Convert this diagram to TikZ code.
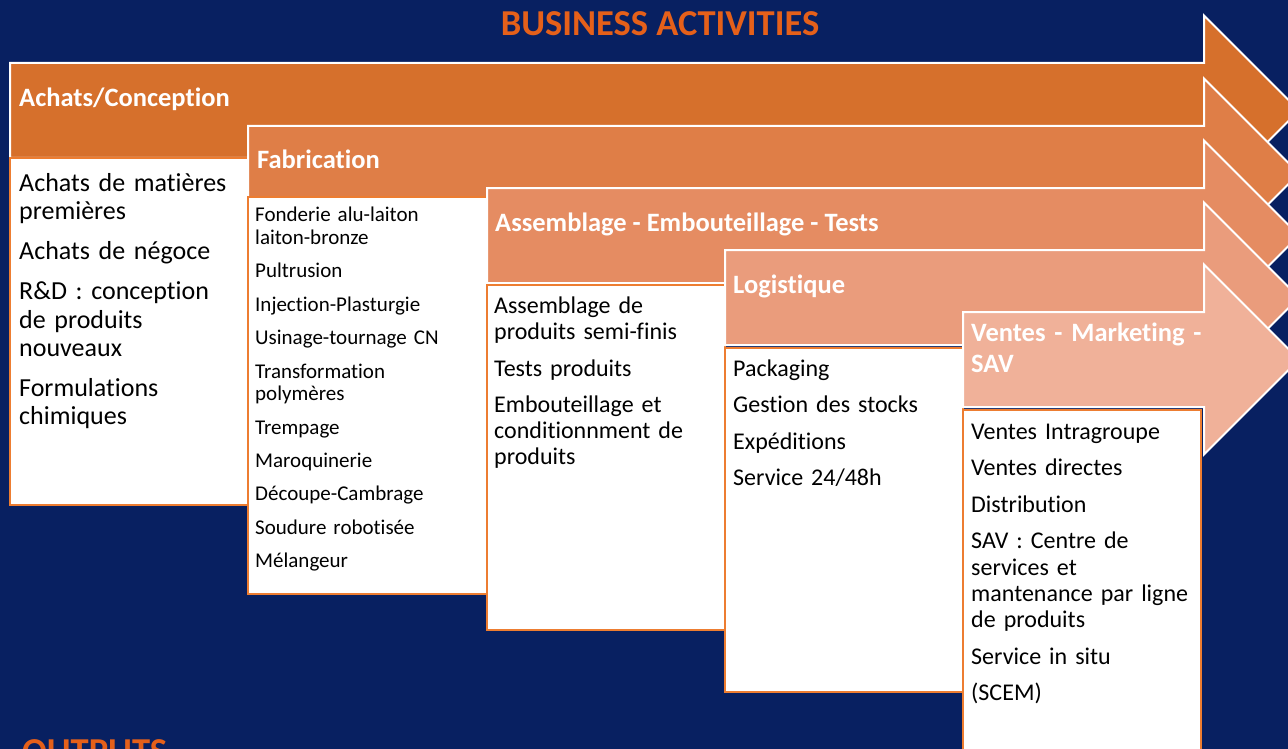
\documentclass[tikz,border=0pt]{standalone}
\usepackage{fontspec}
\setmainfont{Carlito}[Ligatures=NoCommon]
\definecolor{navy}{HTML}{082061}
\definecolor{titleorange}{HTML}{E5601A}
\definecolor{boxorange}{HTML}{ED7D31}
\definecolor{arrA}{HTML}{D6702C}
\definecolor{arrB}{HTML}{DF7E47}
\definecolor{arrC}{HTML}{E58C62}
\definecolor{arrD}{HTML}{EA9C7C}
\definecolor{arrE}{HTML}{F0B199}
\newcommand\fsz[2]{\fontsize{#1}{#2}\selectfont}
\newcommand\procarrow[3]{%
  \filldraw[arrowshape, fill=#3] (#1,#2) -- (1204,#2) -- (1204,#2-47.5) -- (1299,#2+47.5)
    -- (1204,#2+142.5) -- (1204,#2+95) -- (#1,#2+95) -- cycle;}
\begin{document}
\begin{tikzpicture}[x=1pt,y=-1pt,
  arrowshape/.style={draw=white, line width=2pt, line join=miter},
  contentbox/.style={fill=white, draw=boxorange, line width=2.5pt},
  head/.style={anchor=base west, inner sep=0, text=white, font=\bfseries\fsz{26.5}{31}},
  body/.style={anchor=base west, inner sep=0, align=left, text width=260pt, text=black},
  bigtitle/.style={inner sep=0, text=titleorange, font=\bfseries\fsz{36.5}{40}}]
\useasboundingbox (0,0) rectangle (1288,749);
\fill[navy] (0,0) rectangle (1288,749);

\node[bigtitle, anchor=base] (title) at (660,36) {BUSINESS ACTIVITIES};

% 1
\procarrow{10}{63}{arrA}
\node[head] (h1) at (19,106.7) {Achats/Conception};
\draw[contentbox] (10,158) rectangle (248,505);
\node[body, font=\fsz{26}{28.3}] (b1) at (19,191.7) {Achats de matières\\premières\\[11.7pt]
Achats de négoce\\[11.7pt]
R\&D : conception\\de produits\\nouveaux\\[11.7pt]
Formulations\\chimiques};

% 2
\procarrow{248}{126}{arrB}
\node[head] (h2) at (257,168.3) {Fabrication};
\draw[contentbox] (248,197) rectangle (487,594);
\node[body, font=\fsz{21}{22.7}] (b2) at (255,221.7) {Fonderie alu-laiton\\laiton-bronze\\[10.7pt]
Pultrusion\\[10.7pt]
Injection-Plasturgie\\[10.7pt]
Usinage-tournage CN\\[10.7pt]
Transformation\\polymères\\[10.7pt]
Trempage\\[10.7pt]
Maroquinerie\\[10.7pt]
Découpe-Cambrage\\[10.7pt]
Soudure robotisée\\[10.7pt]
Mélangeur};

% 3
\procarrow{487}{188}{arrC}
\node[head] (h3) at (495,231.7) {Assemblage - Embouteillage - Tests};
\draw[contentbox] (487,285) rectangle (725,630);
\node[body, font=\fsz{24}{26}] (b3) at (494,313.3) {Assemblage de\\produits semi-finis\\[10.7pt]
Tests produits\\[10.7pt]
Embouteillage et\\conditionnment de\\produits};

% 4
\procarrow{725}{250}{arrD}
\node[head] (h4) at (733,293.3) {Logistique};
\draw[contentbox] (725,348) rectangle (963,692);
\node[body, font=\fsz{24}{26}] (b4) at (733,376) {Packaging\\[10.5pt]
Gestion des stocks\\[10.5pt]
Expéditions\\[10.5pt]
Service 24/48h};

% 5
\procarrow{963}{312}{arrE}
\node[head, align=left, text width=240pt] (h5) at (971,341.3) {Ventes - Marketing -\\SAV};
\draw[contentbox] (963,410) rectangle (1201,770);
\node[body, font=\fsz{24}{26.3}] (b5) at (971,439) {Ventes Intragroupe\\[10.3pt]
Ventes directes\\[10.3pt]
Distribution\\[10.3pt]
SAV : Centre de\\services et\\mantenance par ligne\\de produits\\[10.3pt]
Service in situ\\[10.3pt]
(SCEM)};

\node[bigtitle, anchor=base west] (outputs) at (22,763) {OUTPUTS};
\end{tikzpicture}
\end{document}
